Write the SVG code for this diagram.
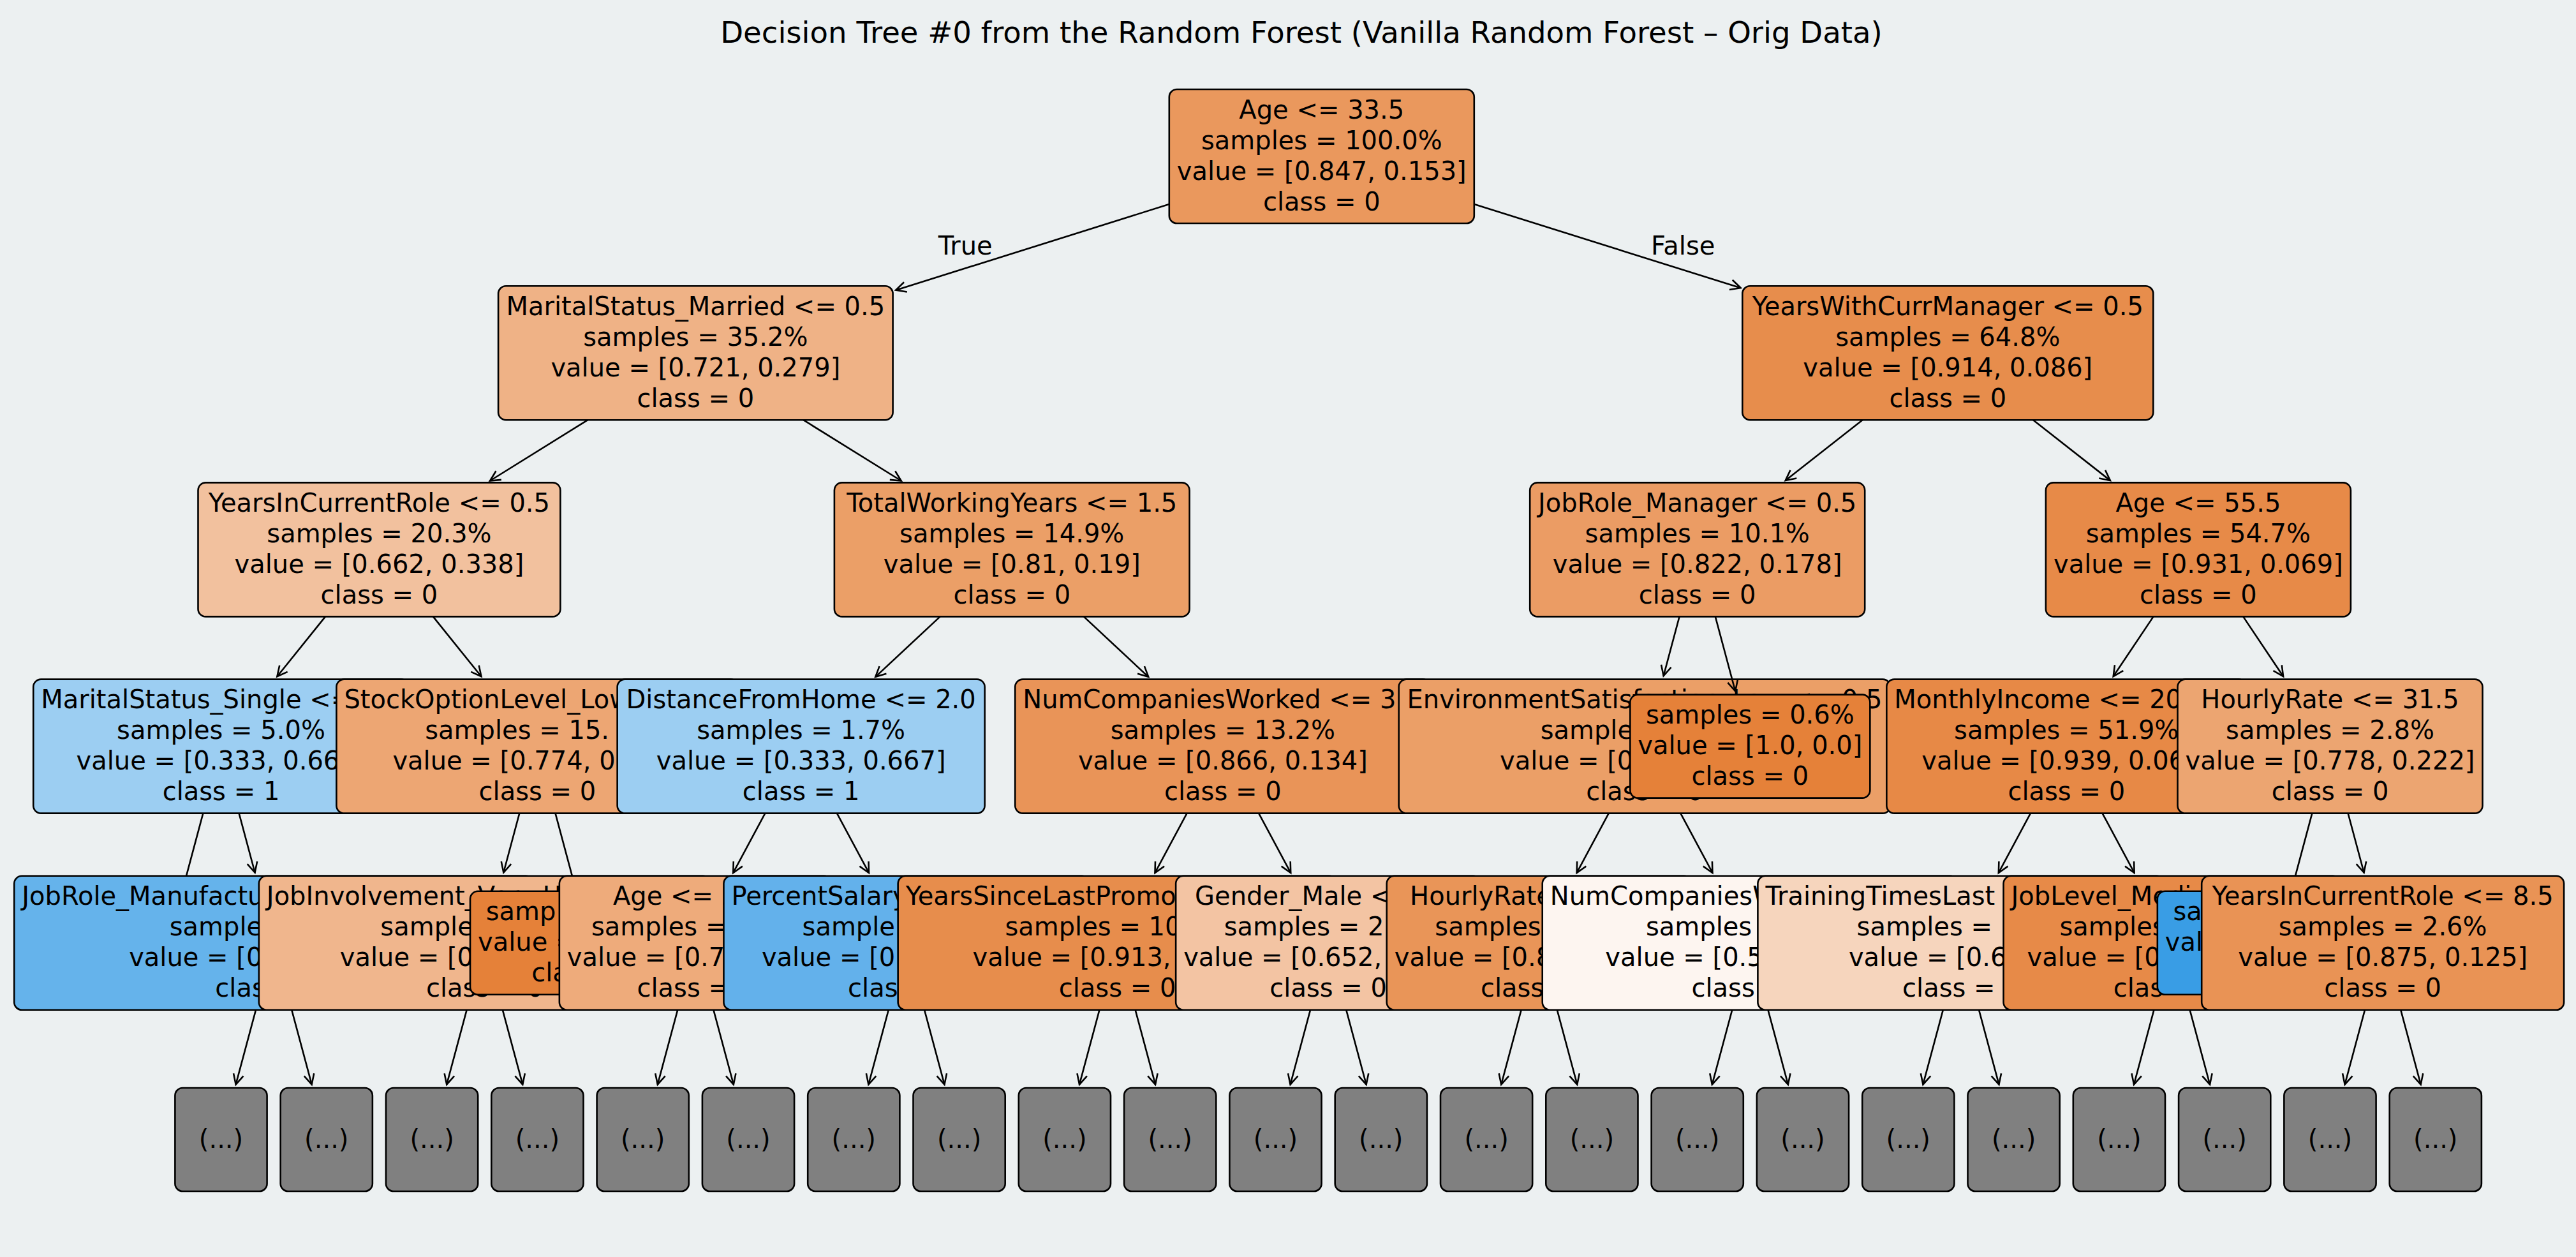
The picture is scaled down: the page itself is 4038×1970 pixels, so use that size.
<svg xmlns="http://www.w3.org/2000/svg" width="4038" height="1970" viewBox="0 0 4038 1970">
<defs>
<marker id="ah" markerUnits="userSpaceOnUse" markerWidth="20" markerHeight="20" refX="0" refY="0" orient="auto" overflow="visible">
<path d="M16,-8 L0,0 L16,8" fill="none" stroke="#000" stroke-width="2.6" stroke-linejoin="miter"/>
</marker>
</defs>
<style>
.bx{stroke:#000;stroke-width:2.6}
text{font-family:"DejaVu Sans","Liberation Sans",sans-serif;font-size:40px;fill:#000}
.m{text-anchor:middle}
.e{stroke:#000;stroke-width:2.6;fill:none}
.a{marker-start:url(#ah)}
.g{fill:#808080}
</style>
<rect x="0" y="0" width="4038" height="1970" fill="#ECF0F1"/>
<text class="m" x="2040" y="67" style="font-size:46.6px">Decision Tree #0 from the Random Forest (Vanilla Random Forest – Orig Data)</text>

<g id="truncated">
<g id="t0"><rect class="bx g" x="274.4" y="1705" width="144.2" height="162" rx="12"/><text class="m" x="346.5" y="1798.5">(...)</text></g>
<g id="t1"><rect class="bx g" x="439.7" y="1705" width="144.2" height="162" rx="12"/><text class="m" x="511.8" y="1798.5">(...)</text></g>
<g id="t2"><rect class="bx g" x="605.0" y="1705" width="144.2" height="162" rx="12"/><text class="m" x="677.1" y="1798.5">(...)</text></g>
<g id="t3"><rect class="bx g" x="770.3" y="1705" width="144.2" height="162" rx="12"/><text class="m" x="842.4" y="1798.5">(...)</text></g>
<g id="t4"><rect class="bx g" x="935.6" y="1705" width="144.2" height="162" rx="12"/><text class="m" x="1007.7" y="1798.5">(...)</text></g>
<g id="t5"><rect class="bx g" x="1100.9" y="1705" width="144.2" height="162" rx="12"/><text class="m" x="1173.0" y="1798.5">(...)</text></g>
<g id="t6"><rect class="bx g" x="1266.2" y="1705" width="144.2" height="162" rx="12"/><text class="m" x="1338.3" y="1798.5">(...)</text></g>
<g id="t7"><rect class="bx g" x="1431.5" y="1705" width="144.2" height="162" rx="12"/><text class="m" x="1503.6" y="1798.5">(...)</text></g>
<g id="t8"><rect class="bx g" x="1596.8" y="1705" width="144.2" height="162" rx="12"/><text class="m" x="1668.9" y="1798.5">(...)</text></g>
<g id="t9"><rect class="bx g" x="1762.1" y="1705" width="144.2" height="162" rx="12"/><text class="m" x="1834.2" y="1798.5">(...)</text></g>
<g id="t10"><rect class="bx g" x="1927.4" y="1705" width="144.2" height="162" rx="12"/><text class="m" x="1999.5" y="1798.5">(...)</text></g>
<g id="t11"><rect class="bx g" x="2092.7" y="1705" width="144.2" height="162" rx="12"/><text class="m" x="2164.8" y="1798.5">(...)</text></g>
<g id="t12"><rect class="bx g" x="2258.0" y="1705" width="144.2" height="162" rx="12"/><text class="m" x="2330.1" y="1798.5">(...)</text></g>
<g id="t13"><rect class="bx g" x="2423.3" y="1705" width="144.2" height="162" rx="12"/><text class="m" x="2495.4" y="1798.5">(...)</text></g>
<g id="t14"><rect class="bx g" x="2588.6" y="1705" width="144.2" height="162" rx="12"/><text class="m" x="2660.7" y="1798.5">(...)</text></g>
<g id="t15"><rect class="bx g" x="2753.9" y="1705" width="144.2" height="162" rx="12"/><text class="m" x="2826.0" y="1798.5">(...)</text></g>
<g id="t16"><rect class="bx g" x="2919.2" y="1705" width="144.2" height="162" rx="12"/><text class="m" x="2991.3" y="1798.5">(...)</text></g>
<g id="t17"><rect class="bx g" x="3084.5" y="1705" width="144.2" height="162" rx="12"/><text class="m" x="3156.6" y="1798.5">(...)</text></g>
<g id="t18"><rect class="bx g" x="3249.8" y="1705" width="144.2" height="162" rx="12"/><text class="m" x="3321.9" y="1798.5">(...)</text></g>
<g id="t19"><rect class="bx g" x="3415.1" y="1705" width="144.2" height="162" rx="12"/><text class="m" x="3487.2" y="1798.5">(...)</text></g>
<g id="t20"><rect class="bx g" x="3580.4" y="1705" width="144.2" height="162" rx="12"/><text class="m" x="3652.5" y="1798.5">(...)</text></g>
<g id="t21"><rect class="bx g" x="3745.7" y="1705" width="144.2" height="162" rx="12"/><text class="m" x="3817.8" y="1798.5">(...)</text></g>
</g>

<g id="depth4">
<g id="n_jobrole_manuf"><rect class="bx" x="22.25" y="1372.8" width="813.8" height="210" rx="12" fill="#65B3EB"/>
<text x="34.25" y="1418.3">JobRole_Manufactu</text><text x="265.75" y="1466.3">sample</text><text x="202.15" y="1514.3">value = [0</text><text x="337.3" y="1562.3">clas</text></g>
<g id="n_jobinvolvement"><rect class="bx" x="405.85" y="1372.8" width="707.8" height="210" rx="12" fill="#F0B68D"/>
<text x="417.85" y="1418.3">JobInvolvement_Very H</text><text x="596.35" y="1466.3">sample</text><text x="532.75" y="1514.3">value = [0</text><text class="m" x="759.75" y="1562.3">class = 0</text></g>
<g id="n_leaf_orange4"><rect class="bx" x="737.05" y="1396.8" width="376" height="162" rx="12" fill="#E58139"/>
<text x="761.65" y="1442.3">samp</text><text x="749.05" y="1490.3">value =</text><text x="833.2" y="1538.3">cla</text></g>
<g id="n_age_l4"><rect class="bx" x="876.85" y="1372.8" width="427" height="210" rx="12" fill="#EEAB7B"/>
<text x="960.9" y="1418.3">Age &lt;= 2</text><text x="926.95" y="1466.3">samples =</text><text x="888.85" y="1514.3">value = [0.7</text><text x="998.5" y="1562.3">class =</text></g>
<g id="n_percentsalary"><rect class="bx" x="1134.45" y="1372.8" width="573" height="210" rx="12" fill="#63B1EB"/>
<text x="1146.45" y="1418.3">PercentSalary</text><text x="1257.55" y="1466.3">sample</text><text x="1193.95" y="1514.3">value = [0.</text><text x="1329.1" y="1562.3">clas</text></g>
<g id="n_yslp"><rect class="bx" x="1407.65" y="1372.8" width="687.8" height="210" rx="12" fill="#E78D4C"/>
<text x="1419.65" y="1418.3">YearsSinceLastPromo</text><text x="1575.4" y="1466.3">samples = 10</text><text x="1524.55" y="1514.3">value = [0.913,</text><text class="m" x="1751.55" y="1562.3">class = 0</text></g>
<g id="n_gender"><rect class="bx" x="1843.15" y="1372.8" width="478" height="210" rx="12" fill="#F3C4A3"/>
<text x="1873.05" y="1418.3">Gender_Male &lt;</text><text x="1918.75" y="1466.3">samples = 2</text><text x="1855.15" y="1514.3">value = [0.652,</text><text class="m" x="2082.15" y="1562.3">class = 0</text></g>
<g id="n_hourlyrate4"><rect class="bx" x="2173.75" y="1372.8" width="478" height="210" rx="12" fill="#E99558"/>
<text x="2210.1" y="1418.3">HourlyRate</text><text x="2249.35" y="1466.3">samples</text><text x="2185.75" y="1514.3">value = [0.8</text><text x="2320.9" y="1562.3">class</text></g>
<g id="n_numcompanies4"><rect class="bx" x="2417.75" y="1372.8" width="651.2" height="210" rx="12" fill="#FDF5F0"/>
<text x="2429.75" y="1418.3">NumCompaniesW</text><text x="2579.95" y="1466.3">samples</text><text x="2516.35" y="1514.3">value = [0.5</text><text x="2651.5" y="1562.3">class</text></g>
<g id="n_trainingtimes"><rect class="bx" x="2755.4" y="1372.8" width="637.1" height="210" rx="12" fill="#F6D5BD"/>
<text x="2767.4" y="1418.3">TrainingTimesLast</text><text x="2910.55" y="1466.3">samples =</text><text x="2897.95" y="1514.3">value = [0.6</text><text x="2982.1" y="1562.3">class =</text></g>
<g id="n_joblevel"><rect class="bx" x="3140.55" y="1372.8" width="528" height="210" rx="12" fill="#E78A48"/>
<text x="3152.55" y="1418.3">JobLevel_Medi</text><text x="3228.4" y="1466.3">samples</text><text x="3177.55" y="1514.3">value = [0</text><text x="3312.7" y="1562.3">clas</text></g>
<g id="n_leaf_blue4"><rect class="bx" x="3381.85" y="1396.8" width="376" height="162" rx="12" fill="#399DE5"/>
<text x="3406.45" y="1442.3">sa</text><text x="3393.85" y="1490.3">val</text></g>
<g id="n_yicr85"><rect class="bx" x="3451.2" y="1372.8" width="567.9" height="210" rx="12" fill="#E99355"/>
<text class="m" x="3735.15" y="1418.3">YearsInCurrentRole &lt;= 8.5</text><text class="m" x="3735.15" y="1466.3">samples = 2.6%</text><text class="m" x="3735.15" y="1514.3">value = [0.875, 0.125]</text><text class="m" x="3735.15" y="1562.3">class = 0</text></g>
</g>

<g id="depth3">
<g id="n_ms_single"><rect class="bx" x="52.25" y="1064.6" width="588.5" height="210" rx="12" fill="#9CCEF2"/>
<text x="64.25" y="1110.1">MaritalStatus_Single &lt;=</text><text x="183.1" y="1158.1">samples = 5.0%</text><text x="119.5" y="1206.1">value = [0.333, 0.66</text><text class="m" x="346.5" y="1254.1">class = 1</text></g>
<g id="n_stockoption"><rect class="bx" x="527.4" y="1064.6" width="630" height="210" rx="12" fill="#EDA673"/>
<text x="539.4" y="1110.1">StockOptionLevel_Low</text><text x="666.25" y="1158.1">samples = 15.</text><text x="615.4" y="1206.1">value = [0.774, 0</text><text class="m" x="842.4" y="1254.1">class = 0</text></g>
<g id="n_distance"><rect class="bx" x="967.65" y="1064.6" width="576" height="210" rx="12" fill="#9CCEF2"/>
<text class="m" x="1255.65" y="1110.1">DistanceFromHome &lt;= 2.0</text><text class="m" x="1255.65" y="1158.1">samples = 1.7%</text><text class="m" x="1255.65" y="1206.1">value = [0.333, 0.667]</text><text class="m" x="1255.65" y="1254.1">class = 1</text></g>
<g id="n_numcompworked"><rect class="bx" x="1591.25" y="1064.6" width="651.2" height="210" rx="12" fill="#E99458"/>
<text x="1603.25" y="1110.1">NumCompaniesWorked &lt;= 3</text><text class="m" x="1916.85" y="1158.1">samples = 13.2%</text><text class="m" x="1916.85" y="1206.1">value = [0.866, 0.134]</text><text class="m" x="1916.85" y="1254.1">class = 0</text></g>
<g id="n_envsat"><rect class="bx" x="2192.7" y="1064.6" width="770.7" height="210" rx="12" fill="#EB9F67"/>
<text class="m" x="2578.05" y="1110.1">EnvironmentSatisfaction_Low &lt;= 0.5</text><text x="2414.65" y="1158.1">sample</text><text x="2351.05" y="1206.1">value = [0</text><text class="m" x="2578.05" y="1254.1">class = 0</text></g>
<g id="n_leaf06"><rect class="bx" x="2555.35" y="1088.6" width="376" height="162" rx="12" fill="#E58139"/>
<text class="m" x="2743.35" y="1134.1">samples = 0.6%</text><text class="m" x="2743.35" y="1182.1">value = [1.0, 0.0]</text><text class="m" x="2743.35" y="1230.1">class = 0</text></g>
<g id="n_monthlyincome"><rect class="bx" x="2957.35" y="1064.6" width="563.8" height="210" rx="12" fill="#E78946"/>
<text x="2969.35" y="1110.1">MonthlyIncome &lt;= 20</text><text class="m" x="3239.25" y="1158.1">samples = 51.9%</text><text x="3012.25" y="1206.1">value = [0.939, 0.06</text><text class="m" x="3239.25" y="1254.1">class = 0</text></g>
<g id="n_hourlyrate315"><rect class="bx" x="3413.5" y="1064.6" width="478" height="210" rx="12" fill="#ECA571"/>
<text class="m" x="3652.5" y="1110.1">HourlyRate &lt;= 31.5</text><text class="m" x="3652.5" y="1158.1">samples = 2.8%</text><text class="m" x="3652.5" y="1206.1">value = [0.778, 0.222]</text><text class="m" x="3652.5" y="1254.1">class = 0</text></g>
</g>

<g id="depth2">
<g id="n_yicr05"><rect class="bx" x="310.5" y="756.4" width="567.9" height="210" rx="12" fill="#F2C19E"/>
<text class="m" x="594.45" y="801.9">YearsInCurrentRole &lt;= 0.5</text><text class="m" x="594.45" y="849.9">samples = 20.3%</text><text class="m" x="594.45" y="897.9">value = [0.662, 0.338]</text><text class="m" x="594.45" y="945.9">class = 0</text></g>
<g id="n_twy"><rect class="bx" x="1307.9" y="756.4" width="556.7" height="210" rx="12" fill="#EB9F67"/>
<text class="m" x="1586.25" y="801.9">TotalWorkingYears &lt;= 1.5</text><text class="m" x="1586.25" y="849.9">samples = 14.9%</text><text class="m" x="1586.25" y="897.9">value = [0.81, 0.19]</text><text class="m" x="1586.25" y="945.9">class = 0</text></g>
<g id="n_jrm"><rect class="bx" x="2398.2" y="756.4" width="525" height="210" rx="12" fill="#EB9C64"/>
<text class="m" x="2660.7" y="801.9">JobRole_Manager &lt;= 0.5</text><text class="m" x="2660.7" y="849.9">samples = 10.1%</text><text class="m" x="2660.7" y="897.9">value = [0.822, 0.178]</text><text class="m" x="2660.7" y="945.9">class = 0</text></g>
<g id="n_age555"><rect class="bx" x="3206.9" y="756.4" width="478" height="210" rx="12" fill="#E78A48"/>
<text class="m" x="3445.9" y="801.9">Age &lt;= 55.5</text><text class="m" x="3445.9" y="849.9">samples = 54.7%</text><text class="m" x="3445.9" y="897.9">value = [0.931, 0.069]</text><text class="m" x="3445.9" y="945.9">class = 0</text></g>
</g>

<g id="depth1">
<g id="n_ms_married"><rect class="bx" x="781.1" y="448.2" width="618.5" height="210" rx="12" fill="#EFB286"/>
<text class="m" x="1090.35" y="493.7">MaritalStatus_Married &lt;= 0.5</text><text class="m" x="1090.35" y="541.7">samples = 35.2%</text><text class="m" x="1090.35" y="589.7">value = [0.721, 0.279]</text><text class="m" x="1090.35" y="637.7">class = 0</text></g>
<g id="n_ywcm"><rect class="bx" x="2731.3" y="448.2" width="644" height="210" rx="12" fill="#E78D4C"/>
<text class="m" x="3053.3" y="493.7">YearsWithCurrManager &lt;= 0.5</text><text class="m" x="3053.3" y="541.7">samples = 64.8%</text><text class="m" x="3053.3" y="589.7">value = [0.914, 0.086]</text><text class="m" x="3053.3" y="637.7">class = 0</text></g>
</g>

<g id="n_root"><rect class="bx" x="1832.8" y="140" width="478" height="210" rx="12" fill="#EA985D"/>
<text class="m" x="2071.8" y="185.5">Age &lt;= 33.5</text><text class="m" x="2071.8" y="233.5">samples = 100.0%</text><text class="m" x="2071.8" y="281.5">value = [0.847, 0.153]</text><text class="m" x="2071.8" y="329.5">class = 0</text></g>

<g id="connectors">
<path class="e a" d="M1404.19,454.64 L1832.8,320.05"/>
<path class="e a" d="M2728.6,451.23 L2310.8,320.05"/>
<text x="1555.7" y="399.1" style="text-anchor:end">True</text>
<text x="2587.95" y="399.1">False</text>
<path class="e a" d="M768.07,753.5 L921.4,658.2"/>
<path class="e a" d="M1412.63,753.5 L1259.3,658.2"/>
<path class="e a" d="M2798.79,753.0 L2919.55,658.2"/>
<path class="e a" d="M3307.81,753.0 L3187.05,658.2"/>
<path class="e a" d="M434.42,1060.3 L509.98,966.4"/>
<path class="e a" d="M754.48,1060.3 L678.92,966.4"/>
<path class="e a" d="M1372.3,1060.85 L1473.62,966.4"/>
<path class="e a" d="M1800.2,1060.85 L1698.88,966.4"/>
<path class="e a" d="M2607.64,1059.29 L2632.54,966.4"/>
<path class="e a" d="M2720.2,1083.29 L2688.86,966.4"/>
<path class="e a" d="M3312.73,1060.03 L3375.5,966.4"/>
<path class="e a" d="M3579.07,1060.03 L3516.3,966.4"/>
<path class="e" d="M318.34,1274.6 L292.01,1372.8"/>
<path class="e a" d="M399.57,1367.49 L374.66,1274.6"/>
<path class="e a" d="M789.33,1367.49 L814.24,1274.6"/>
<path class="e" d="M870.56,1274.6 L896.89,1372.8"/>
<path class="e a" d="M1149.27,1367.95 L1199.33,1274.6"/>
<path class="e a" d="M1362.03,1367.95 L1311.97,1274.6"/>
<path class="e a" d="M1810.47,1367.95 L1860.53,1274.6"/>
<path class="e a" d="M2023.23,1367.95 L1973.17,1274.6"/>
<path class="e a" d="M2471.67,1367.95 L2521.73,1274.6"/>
<path class="e a" d="M2684.43,1367.95 L2634.37,1274.6"/>
<path class="e a" d="M3132.87,1367.95 L3182.93,1274.6"/>
<path class="e a" d="M3345.63,1367.95 L3295.57,1274.6"/>
<path class="e" d="M3624.34,1274.6 L3598.01,1372.8"/>
<path class="e a" d="M3705.57,1367.49 L3680.66,1274.6"/>
<path class="e a" d="M369.64,1699.69 L400.99,1582.8"/>
<path class="e a" d="M488.66,1699.69 L457.31,1582.8"/>
<path class="e a" d="M700.24,1699.69 L731.59,1582.8"/>
<path class="e a" d="M819.26,1699.69 L787.91,1582.8"/>
<path class="e a" d="M1030.84,1699.69 L1062.19,1582.8"/>
<path class="e a" d="M1149.86,1699.69 L1118.51,1582.8"/>
<path class="e a" d="M1361.44,1699.69 L1392.79,1582.8"/>
<path class="e a" d="M1480.46,1699.69 L1449.11,1582.8"/>
<path class="e a" d="M1692.04,1699.69 L1723.39,1582.8"/>
<path class="e a" d="M1811.06,1699.69 L1779.71,1582.8"/>
<path class="e a" d="M2022.64,1699.69 L2053.99,1582.8"/>
<path class="e a" d="M2141.66,1699.69 L2110.31,1582.8"/>
<path class="e a" d="M2353.24,1699.69 L2384.59,1582.8"/>
<path class="e a" d="M2472.26,1699.69 L2440.91,1582.8"/>
<path class="e a" d="M2683.84,1699.69 L2715.19,1582.8"/>
<path class="e a" d="M2802.86,1699.69 L2771.51,1582.8"/>
<path class="e a" d="M3014.44,1699.69 L3045.79,1582.8"/>
<path class="e a" d="M3133.46,1699.69 L3102.11,1582.8"/>
<path class="e a" d="M3345.04,1699.69 L3376.39,1582.8"/>
<path class="e a" d="M3464.06,1699.69 L3432.71,1582.8"/>
<path class="e a" d="M3675.64,1699.69 L3706.99,1582.8"/>
<path class="e a" d="M3794.66,1699.69 L3763.31,1582.8"/>
</g>
</svg>
